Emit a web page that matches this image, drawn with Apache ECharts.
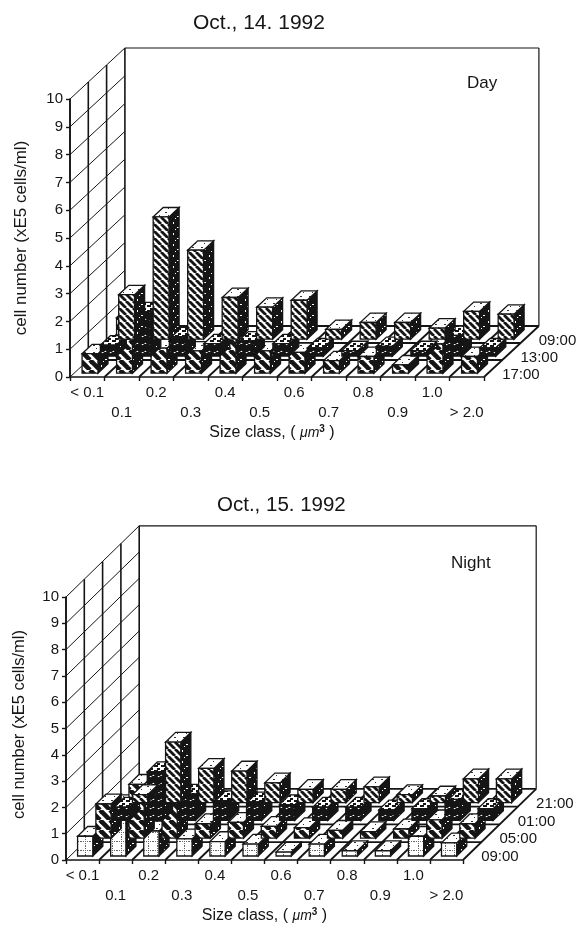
<!DOCTYPE html>
<html><head><meta charset="utf-8">
<style>html,body{margin:0;padding:0;background:#fff}#c{width:579px;height:926px}</style>
<script src="https://cdn.jsdelivr.net/npm/echarts@6/dist/echarts.min.js"></script>
</head><body><div id="c"></div>
<script>
const sizeLabels = ['< 0.1','0.1','0.2','0.3','0.4','0.5','0.6','0.7','0.8','0.9','1.0','> 2.0'];
const yTicks = [0,1,2,3,4,5,6,7,8,9,10];

const dayRows = ['17:00','13:00','09:00'];
const day1700 = [0.7,2.0,0.9,0.8,1.4,0.8,0.75,0.45,0.6,0.3,1.05,0.6];
const day1300 = [0.4,1.6,0.7,0.45,0.55,0.45,0.3,0.2,0.35,0.2,0.75,0.3];
const day0900 = [1.6,4.4,3.2,1.5,1.15,1.4,0.35,0.6,0.6,0.4,1.0,0.9];

const nightRows = ['09:00','05:00','01:00','21:00'];
const night0900 = [0.75,1.95,0.95,0.65,0.55,0.45,0.15,0.45,0.2,0.2,0.75,0.5];
const night0500 = [1.3,2.05,1.55,0.55,0.6,0.45,0.4,0.3,0.25,0.35,0.7,0.55];
const night0100 = [0.5,1.85,1.0,0.75,0.7,0.6,0.5,0.5,0.4,0.45,0.8,0.45];
const night2100 = [0.3,2.3,1.3,1.2,0.75,0.5,0.5,0.6,0.3,0.25,0.9,0.9];

const INK = '#151515';
const FONT = '"Liberation Sans", Arial, sans-serif';

function tile(w, h, draw) {
  const c = document.createElement('canvas'); c.width = w; c.height = h;
  const g = c.getContext('2d'); g.fillStyle = '#fff'; g.fillRect(0,0,w,h); draw(g,w,h);
  return {image: c, repeat: 'repeat'};
}
function diag(period, lw, bg, fg) {
  return tile(period, period, (g,w,h) => {
    g.fillStyle = bg; g.fillRect(0,0,w,h); g.strokeStyle = fg; g.lineWidth = lw;
    [[-w,0],[0,0],[w,0]].forEach(o => { g.beginPath(); g.moveTo(o[0],0); g.lineTo(o[0]+w,h); g.stroke(); });
  });
}
const fills = {
  thin: diag(7, 2.8, '#fff', INK),
  thick: diag(10, 4.6, '#fff', INK),
  dark: diag(8, 7.6, '#fff', INK),
  plaid: tile(9, 9, (g) => {
    g.fillStyle = '#666'; for (let i = 0; i < 9; i += 2) { g.fillRect(i,4,1,1); g.fillRect(4,i,1,1); }
  }),
  side: tile(9, 11, (g,w,h) => {
    g.fillStyle = INK; g.fillRect(0,0,w,h); g.fillStyle = '#fff';
    g.fillRect(2,2,1,2); g.fillRect(6,7,2,1); g.fillRect(4,9,1,1);
  }),
  sideDark: tile(9, 9, (g,w,h) => {
    g.fillStyle = INK; g.fillRect(0,0,w,h); g.fillStyle = '#fff'; g.fillRect(3,4,1,1);
  }),
  top: tile(9, 7, (g) => {
    g.fillStyle = '#333'; g.fillRect(3,2,2,1); g.fillRect(6,5,1,1);
  }),
  topDark: tile(7, 5, (g,w,h) => {
    g.fillStyle = '#fff'; g.fillRect(0,0,w,h); g.fillStyle = INK; g.fillRect(0,0,4,2); g.fillRect(3,3,3,2);
  })
};

function pt(a, b, lw) {
  return {type:'line', shape:{x1:a[0],y1:a[1],x2:b[0],y2:b[1]}, style:{stroke:INK, lineWidth:lw||1, fill:null}};
}

function frameSeries(idx, rows, depth) {
  return {
    type:'custom', xAxisIndex:idx, yAxisIndex:idx, z:1, silent:true,
    data:[[0,0]],
    renderItem(params, api) {
      const band = api.size([1,0])[0];
      const n = rows.length, last = sizeLabels.length - 1;
      const at = (cat, v, d) => { // cat: boundary index, d: depth rows
        const p = api.coord([0, v]);
        return [p[0] - band/2 + cat*band + d*depth[0], p[1] + d*depth[1]];
      };
      const kids = [];
      yTicks.forEach(v => kids.push(pt(at(0,v,0), at(0,v,n), 1)));
      for (let d = 0; d <= n; d++) kids.push(pt(at(0,0,d), at(0,10,d), 1.6));
      kids.push(pt(at(0,10,n), at(last+1,10,n), 1.2));
      kids.push(pt(at(last+1,0,n), at(last+1,10,n), 1.2));
      for (let d = 1; d <= n; d++) kids.push(pt(at(0,0,d), at(last+1,0,d), 1.8));
      for (let c = 1; c <= last+1; c++) kids.push(pt(at(c,0,0), at(c,0,n), 1.8));
      rows.forEach((label, r) => {
        const q = at(last+1, 0, r + 0.5);
        kids.push({type:'text', style:{text:label, x:q[0]+9, y:q[1]+6, fill:INK,
          font:'15px '+FONT, align:'left', verticalAlign:'middle'}});
      });
      return {type:'group', children:kids};
    }
  };
}

function barSeries(idx, name, values, r, depth, front, side, top) {
  return {
    type:'custom', name, xAxisIndex:idx, yAxisIndex:idx, z:2+r, silent:true,
    encode:{x:0,y:1},
    data: values.map((v,i) => [i,v]),
    renderItem(params, api) {
      const band = api.size([1,0])[0];
      const base = api.coord([api.value(0), 0]);
      const head = api.coord([api.value(0), api.value(1)]);
      const inset = 0.225, bd = 0.55;
      const x0 = base[0] - band/2 + 0.35*band + depth[0]*r;
      const yb = base[1] + depth[1]*(r + inset);
      const w = 0.46*band;
      const h = base[1] - head[1];
      const dx = depth[0]*bd, dy = depth[1]*bd;
      const st = f => ({fill:f, stroke:INK, lineWidth:1.3});
      return {type:'group', children:[
        {type:'polygon', shape:{points:[[x0+w,yb],[x0+w+dx,yb+dy],[x0+w+dx,yb-h+dy],[x0+w,yb-h]]}, style:st(side)},
        {type:'polygon', shape:{points:[[x0,yb-h],[x0+w,yb-h],[x0+w+dx,yb-h+dy],[x0+dx,yb-h+dy]]}, style:st(top)},
        {type:'rect', shape:{x:x0,y:yb-h,width:w,height:h}, style:st(front)}
      ]};
    }
  };
}

function xAxis(idx, gap, padRight) {
  return {
    type:'category', gridIndex:idx, data:sizeLabels, boundaryGap:true,
    name:'Size class, ( {i|\u03BCm}{s|3} )', nameLocation:'middle', nameGap:gap,
    nameTextStyle:{color:INK, fontSize:16, fontFamily:FONT, padding:[0,padRight,0,0],
      rich:{i:{fontStyle:'italic', fontSize:14, fontFamily:FONT, color:INK},
            s:{fontSize:10, verticalAlign:'bottom', padding:[0,0,8,0], fontFamily:FONT, fontWeight:'bold', color:INK}}},
    axisLine:{lineStyle:{color:INK, width:1.6}},
    axisTick:{show:true, length:4, alignWithLabel:false, interval:0, lineStyle:{color:INK, width:1.4}},
    axisLabel:{interval:0, color:INK, fontFamily:FONT, fontSize:15, margin:6, lineHeight:20, hideOverlap:false,
      formatter:(v, i) => i % 2 ? '\n' + v : v}
  };
}
function yAxis(idx, gap, pad, size) {
  return {
    type:'value', gridIndex:idx, min:0, max:10, interval:1,
    name:'cell number (xE5 cells/ml)', nameLocation:'middle', nameGap:gap, nameRotate:90,
    nameTextStyle:{color:INK, fontSize:size, fontFamily:FONT, padding:[0,0,0,pad]},
    axisLine:{show:true, lineStyle:{color:INK, width:1.6}},
    axisTick:{show:true, length:4, lineStyle:{color:INK, width:1.4}},
    axisLabel:{color:INK, fontFamily:FONT, fontSize:15, margin:7},
    splitLine:{show:false}
  };
}

const dayDepth = [18.3, -17];
const nightDepth = [18.3, -17.8];

const option = {
  backgroundColor:'#fff', animation:false,
  title:[
    {text:'Oct., 14. 1992', left:188, top:8, textStyle:{color:INK, fontSize:21, fontWeight:'normal', fontFamily:FONT}},
    {text:'Oct., 15. 1992', left:212, top:490, textStyle:{color:INK, fontSize:20.5, fontWeight:'normal', fontFamily:FONT}},
    {text:'Day', left:462, top:70, textStyle:{color:INK, fontSize:17, fontWeight:'normal', fontFamily:FONT}},
    {text:'Night', left:446, top:550, textStyle:{color:INK, fontSize:17, fontWeight:'normal', fontFamily:FONT}}
  ],
  grid:[
    {left:70, top:99, width:414, height:278},
    {left:66, top:597, width:397, height:263}
  ],
  xAxis:[xAxis(0, 45, 10), xAxis(1, 46, 0)],
  yAxis:[yAxis(0, 40, 0, 17), yAxis(1, 38, 8, 16.5)],
  series:[
    frameSeries(0, dayRows, dayDepth),
    barSeries(0,'09:00',day0900,2,dayDepth,fills.thin,fills.side,fills.top),
    barSeries(0,'13:00',day1300,1,dayDepth,fills.dark,fills.sideDark,fills.topDark),
    barSeries(0,'17:00',day1700,0,dayDepth,fills.thick,fills.side,fills.top),
    frameSeries(1, nightRows, nightDepth),
    barSeries(1,'21:00',night2100,3,nightDepth,fills.thin,fills.side,fills.top),
    barSeries(1,'01:00',night0100,2,nightDepth,fills.dark,fills.sideDark,fills.topDark),
    barSeries(1,'05:00',night0500,1,nightDepth,fills.thick,fills.side,fills.top),
    barSeries(1,'09:00',night0900,0,nightDepth,fills.plaid,fills.side,fills.top)
  ]
};
echarts.init(document.getElementById('c'), null, {renderer:'canvas'}).setOption(option);
</script></body></html>
